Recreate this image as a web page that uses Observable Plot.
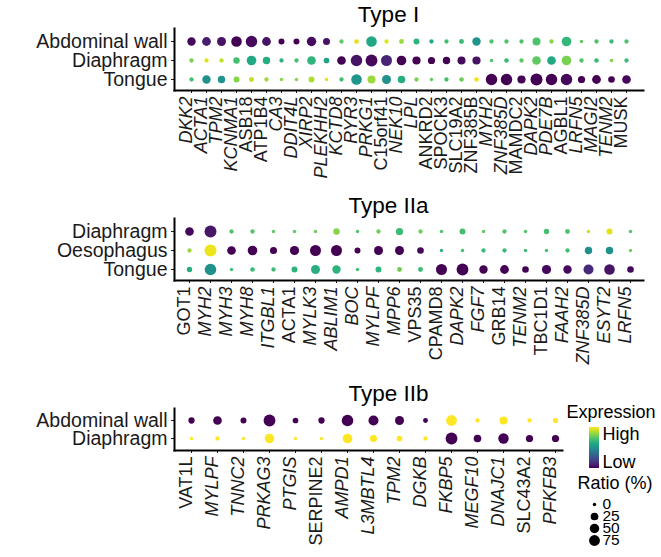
<!DOCTYPE html>
<html><head><meta charset="utf-8">
<script src="https://cdn.jsdelivr.net/npm/d3@7"></script>
<script src="https://cdn.jsdelivr.net/npm/@observablehq/plot@0.6"></script>
<style>
body{margin:0;background:#fff;}
#wrap{position:relative;width:661px;height:557px;overflow:hidden;background:#fff;}
#wrap > div, #wrap > svg{position:absolute;}
</style></head><body><div id="wrap"></div>
<script>
// ---------- Type I ----------
const tissuesI = ["Abdominal wall","Diaphragm","Tongue"];
const genesI = ["DKK2","ACTA1","TPM2","KCNMA1","ASB18","ATP1B4","CA3","DDIT4L","XIRP2","PLEKHH2","KCTD8","RYR3","PRKG1","C15orf41","NEK10","LPL","ANKRD2","SPOCK3","SLC19A2","ZNF385B","MYH2","ZNF385D","MAMDC2","DAPK2","PDE7B","AGBL1","LRFN5","MAGI2","TENM2","MUSK"];
const exprI = [
  [0.02,0.08,0.05,0,0.02,0.05,0,0,0.03,0.05, 0.75,0.95,0.6,0.95,0.85,0.65,0.6,0.7,0.68,0.52, 0.72,0.72,0.72,0.72,0.82,0.66,0.75,0.72,0.68,0.72],
  [0.8,0.95,0.9,0.7,0.6,0.62,0.65,0.7,0.65,0.58, 0,0.05,0.02,0.1,0,0,0,0,0.02,0.05, 0.72,0.68,0.75,0.75,0.6,0.8,0.72,0.68,0.8,0.68],
  [0.7,0.5,0.52,0.82,0.9,0.85,0.82,0.82,0.88,0.95, 0.7,0.52,0.85,0.5,0.62,0.8,0.75,0.7,0.78,0.97, 0,0,0,0,0,0.02,0,0,0,0.02]
];
const ratioI = [
  [34,39,42,70,87,39,9,9,49,18, 1,2,70,1,3,9,1,1,3,34, 1,1,1,29,1,52,0,1,1,1],
  [1,1,1,12,52,22,1,1,37,7, 37,87,95,78,52,31,20,22,29,31, 0,2,1,37,37,52,1,2,0,1],
  [1,34,22,9,3,1,0,0,9,0, 1,70,29,42,24,1,0,1,2,2, 87,87,31,100,87,87,20,39,14,37]
];
const uprightI = ["ASB18","ATP1B4","C15orf41","ANKRD2","SPOCK3","SLC19A2","ZNF385B","MAMDC2","AGBL1","MUSK"];

// ---------- Type IIa ----------
const tissuesIIa = ["Diaphragm","Oesophagus","Tongue"];
const genesIIa = ["GOT1","MYH2","MYH3","MYH8","ITGBL1","ACTA1","MYLK3","ABLIM1","BOC","MYLPF","MPP6","VPS35","CPAMD8","DAPK2","FGF7","GRB14","TENM2","TBC1D1","FAAH2","ZNF385D","ESYT2","LRFN5"];
const exprIIa = [
  [0.02,0.06,0.72,0.72,0.75,0.75,0.78,0.82,0.72,0.78,0.68, 0.78,0.72,0.7,0.75,0.72,0.72,0.7,0.72,0.92,0.95,0.72],
  [0.85,0.97,0,0,0,0,0,0,0,0,0, 0.02,0.65,0.7,0.68,0.68,0.68,0.7,0.7,0.5,0.5,0.78],
  [0.62,0.5,0.7,0.68,0.68,0.65,0.63,0.65,0.7,0.65,0.78, 0.68,0,0,0,0,0,0.02,0.02,0.12,0.05,0.02]
];
const ratioIIa = [
  [37,100,1,1,0,0,0,12,0,1,20, 1,0,9,0,1,0,5,3,0,9,0],
  [1,100,37,52,18,45,78,78,9,42,42, 14,0,0,1,1,0,0,1,22,22,0],
  [5,91,0,2,1,9,42,34,0,9,3, 3,78,95,34,39,14,45,34,59,70,14]
];
const uprightIIa = ["GOT1","ACTA1","VPS35","CPAMD8","GRB14","TBC1D1"];

// ---------- Type IIb ----------
const tissuesIIb = ["Abdominal wall","Diaphragm"];
const genesIIb = ["VAT1L","MYLPF","TNNC2","PRKAG3","PTGIS","SERPINE2","AMPD1","L3MBTL4","TPM2","DGKB","FKBP5","MEGF10","DNAJC1","SLC43A2","PFKFB3"];
const exprIIb = [
  [0,0,0,0,0,0,0,0,0,0,1,1,1,1,1],
  [1,1,1,1,1,1,1,1,1,1,0,0,0,0,0]
];
const ratioIIb = [
  [11,37,9,95,7,11,91,59,42,3,74,1,29,1,4],
  [0,1,0,52,0,0,52,18,7,1,95,24,66,20,20]
];
const uprightIIb = ["VAT1L","SERPINE2","SLC43A2"];

// ---------- Legend ----------
const sizeBreaks = [0,25,50,75];
const colorLabels = ["High","Low"];

const FONT = '"Liberation Sans", Arial, Helvetica, sans-serif';
const INK = "#1a1a1a";
const rScale = {type:"sqrt", domain:[0,100], range:[1.7,6]};
const colorScale = {type:"linear", scheme:"viridis", domain:[0,1]};
const wrap = document.getElementById("wrap");

function panel({title, genes, tissues, expr, ratio, upright, top, height, frameTop, frameBottom, rows, xRange, frameRight, titleBase}) {
  const data = [];
  tissues.forEach((t,i)=>genes.forEach((g,j)=>data.push({gene:g, tissue:t, expr:expr[i][j], ratio:ratio[i][j]})));
  const italic = genes.filter(g=>!upright.includes(g));
  const up = genes.filter(g=>upright.includes(g));
  const plot = Plot.plot({
    width:661, height,
    marginLeft:174, marginRight:661-frameRight, marginTop:frameTop, marginBottom:height-frameBottom,
    x:{type:"point", domain:genes, range:xRange, padding:0},
    y:{type:"point", domain:tissues, range:rows, padding:0},
    r: rScale, color: colorScale,
    style:{fontFamily:FONT, background:"white", overflow:"visible"},
    marks:[
      Plot.axisY({tickSize:3, tickPadding:4, fontSize:19.5, color:INK, label:null}),
      Plot.axisX({tickSize:3, tickFormat:()=>"", label:null, color:INK}),
      Plot.frame({anchor:"left", stroke:"#000", strokeWidth:2}),
      Plot.frame({anchor:"bottom", stroke:"#000", strokeWidth:2}),
      Plot.text(italic, {x:d=>d, frameAnchor:"bottom", rotate:-90, textAnchor:"end", dy:6, fontSize:18, fontStyle:"italic", fill:INK}),
      Plot.text(up, {x:d=>d, frameAnchor:"bottom", rotate:-90, textAnchor:"end", dy:6, fontSize:18, fill:INK}),
      Plot.dot(data, {x:"gene", y:"tissue", r:"ratio", fill:"expr"}),
      Plot.text([title], {frameAnchor:"top", dx:388-(174+frameRight)/2, dy:titleBase-frameTop, lineAnchor:"bottom", fontSize:22.5, fill:"#000"})
    ]
  });
  plot.style.top = top + "px";
  plot.style.left = "0px";
  wrap.appendChild(plot);
}

panel({title:"Type I", genes:genesI, tissues:tissuesI, expr:exprI, ratio:ratioI, upright:uprightI,
  top:0, height:185, frameTop:28, frameBottom:90, rows:[40,79], xRange:[183,633], frameRight:643, titleBase:21});
panel({title:"Type IIa", genes:genesIIa, tissues:tissuesIIa, expr:exprIIa, ratio:ratioIIa, upright:uprightIIa,
  top:185, height:185, frameTop:33, frameBottom:95, rows:[46,84], xRange:[185,633], frameRight:643, titleBase:27});
panel({title:"Type IIb", genes:genesIIb, tissues:tissuesIIb, expr:exprIIb, ratio:ratioIIb, upright:uprightIIb,
  top:370, height:187, frameTop:38, frameBottom:80, rows:[50,68], xRange:[191,555], frameRight:562, titleBase:30});

// legend (SVG)
const legend = Plot.plot({
  width:101, height:157, margin:0,
  y:{type:"point", domain:sizeBreaks, range:[103,141], padding:0, axis:null},
  r: rScale,
  style:{fontFamily:FONT, background:"transparent", overflow:"visible"},
  marks:[
    Plot.text(["Expression"], {frameAnchor:"top-left", dx:6, dy:17, lineAnchor:"bottom", textAnchor:"start", fontSize:18, fill:"#000"}),
    Plot.text([colorLabels[0]], {frameAnchor:"top-left", dx:42, dy:39, lineAnchor:"bottom", textAnchor:"start", fontSize:18, fill:"#000"}),
    Plot.text([colorLabels[1]], {frameAnchor:"top-left", dx:42, dy:67, lineAnchor:"bottom", textAnchor:"start", fontSize:18, fill:"#000"}),
    Plot.text(["Ratio (%)"], {frameAnchor:"top-left", dx:17, dy:88, lineAnchor:"bottom", textAnchor:"start", fontSize:18, fill:"#000"}),
    Plot.dot(sizeBreaks, {y:d=>d, r:d=>d, fill:"#000", frameAnchor:"left", dx:34}),
    Plot.text(sizeBreaks, {y:d=>d, text:d=>String(d), frameAnchor:"left", dx:42, textAnchor:"start", fontSize:15.5, fill:"#000"})
  ]
});
legend.style.left = "560px";
legend.style.top = "400px";
wrap.appendChild(legend);

// colour bar
const bar = document.createElement("div");
const stops = d3.range(0, 1.0001, 0.1).map(t => d3.interpolateViridis(t) + " " + (t*100) + "%").join(",");
bar.style.cssText = `left:589px;top:427px;width:10px;height:41px;background:linear-gradient(to top, ${stops});`;
wrap.appendChild(bar);
</script></body></html>
